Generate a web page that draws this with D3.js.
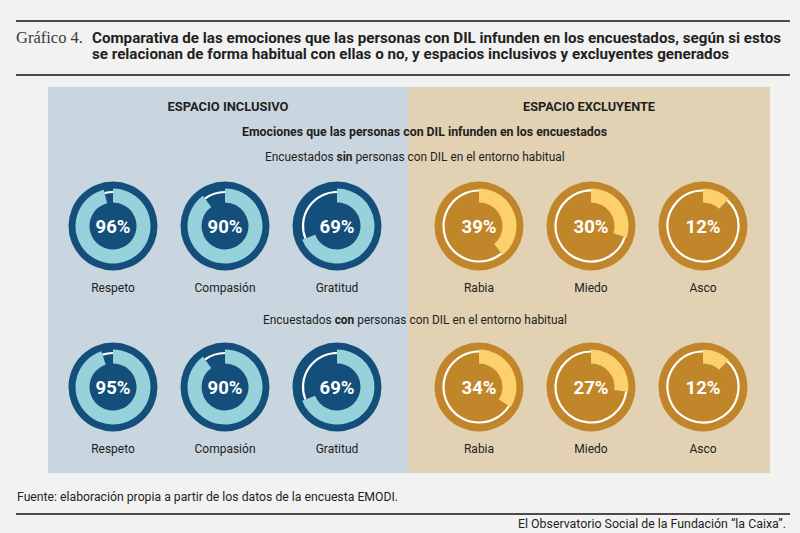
<!DOCTYPE html>
<html>
<head>
<meta charset="utf-8">
<script src="https://cdn.jsdelivr.net/npm/d3@7"></script>
<style>
  html, body { margin: 0; padding: 0; background: #f2f2f2; }
  svg { display: block; }
  text { font-family: Roboto, "Noto Sans", sans-serif; fill: #231f20; }
</style>
</head>
<body>
<svg id="chart" width="800" height="533"></svg>
<script>
'use strict';

// data
const inclusiveEmotions = ["Respeto", "Compasión", "Gratitud"];
const exclusiveEmotions = ["Rabia", "Miedo", "Asco"];
const groups = ["sin", "con"];
const sinDIL = [96, 90, 69, 39, 30, 12];
const conDIL = [95, 90, 69, 34, 27, 12];
const groupLabels = [
    ["Encuestados ", "sin", " personas con DIL en el entorno habitual"],
    ["Encuestados ", "con", " personas con DIL en el entorno habitual"]
];

const COLORS = {
    inclusive: { bg: "#c9d5df", ring: "#134f7a", arc: "#97d1dc" },
    exclusive: { bg: "#e2d1b3", ring: "#c1862a", arc: "#fcd06a" },
    rule: "#4d4a48"
};

const R = 44.5;

const svg = d3.select("#chart");

// header rules and title
svg.append("line").attr("x1", 16).attr("x2", 790).attr("y1", 21).attr("y2", 21)
    .attr("stroke", COLORS.rule).attr("stroke-width", 2);
svg.append("line").attr("x1", 16).attr("x2", 790).attr("y1", 75).attr("y2", 75)
    .attr("stroke", COLORS.rule).attr("stroke-width", 2);

svg.append("text")
    .attr("x", 16).attr("y", 42.5)
    .style("font-family", "'Liberation Serif', 'DejaVu Serif', serif")
    .style("font-size", "16.5px")
    .style("fill", "#3a3a3a")
    .text("Gráfico 4.");

const titleLines = [
    { text: "Comparativa de las emociones que las personas con DIL infunden en los encuestados, según si estos", w: 689 },
    { text: "se relacionan de forma habitual con ellas o no, y espacios inclusivos y excluyentes generados", w: 637 }
];
svg.selectAll("text.title")
    .data(titleLines)
    .join("text")
    .classed("title", true)
    .attr("x", 92)
    .attr("y", (d, i) => 42.5 + i * 16)
    .attr("textLength", d => d.w)
    .attr("lengthAdjust", "spacingAndGlyphs")
    .style("font-size", "14px")
    .style("font-weight", 700)
    .text(d => d.text);

// panels
const panelX = d3.scaleLinear().domain([0, 1]).range([48, 770]);
const split = 408;
svg.append("rect").attr("x", panelX(0)).attr("y", 87)
    .attr("width", split - panelX(0)).attr("height", 386).attr("fill", COLORS.inclusive.bg);
svg.append("rect").attr("x", split).attr("y", 87)
    .attr("width", panelX(1) - split).attr("height", 386).attr("fill", COLORS.exclusive.bg);

svg.append("text").attr("x", (panelX(0) + split) / 2).attr("y", 111)
    .attr("text-anchor", "middle")
    .attr("textLength", 121).attr("lengthAdjust", "spacingAndGlyphs")
    .style("font-size", "12.5px").style("font-weight", 700)
    .text("ESPACIO INCLUSIVO");
svg.append("text").attr("x", (split + panelX(1)) / 2).attr("y", 111)
    .attr("text-anchor", "middle")
    .attr("textLength", 132).attr("lengthAdjust", "spacingAndGlyphs")
    .style("font-size", "12.5px").style("font-weight", 700)
    .text("ESPACIO EXCLUYENTE");

svg.append("text").attr("x", 242).attr("y", 136)
    .attr("textLength", 365).attr("lengthAdjust", "spacingAndGlyphs")
    .style("font-size", "13px").style("font-weight", 700)
    .text("Emociones que las personas con DIL infunden en los encuestados");

// scales
const xIn = d3.scalePoint().domain(inclusiveEmotions).range([113, 337]);
const xEx = d3.scalePoint().domain(exclusiveEmotions).range([479, 703]);
const yRow = d3.scalePoint().domain(groups).range([226, 387]);
const angle = d3.scaleLinear().domain([0, 100]).range([0, 2 * Math.PI]);

const subtitleY = [161, 324];
const subtitleX = [265, 263];
const subtitleW = [300, 304];

groups.forEach((g, gi) => {
    // subtitle with a bold word, squeezed horizontally to the reference width
    const holder = svg.append("g");
    const t = holder.append("text")
        .attr("x", 0).attr("y", 0)
        .style("font-size", "13px");
    groupLabels[gi].forEach((part, pi) => {
        t.append("tspan").style("font-weight", pi === 1 ? 700 : 400).text(part);
    });
    const natural = t.node().getComputedTextLength();
    holder.attr("transform",
        `translate(${subtitleX[gi]},${subtitleY[gi]}) scale(${subtitleW[gi] / natural},1)`);

    const values = gi === 0 ? sinDIL : conDIL;
    const items = inclusiveEmotions.map((e, i) => ({ name: e, value: values[i], kind: "inclusive", x: xIn(e) }))
        .concat(exclusiveEmotions.map((e, i) => ({ name: e, value: values[i + 3], kind: "exclusive", x: xEx(e) })));

    const donut = svg.append("g").selectAll("g")
        .data(items)
        .join("g")
        .attr("transform", d => `translate(${d.x},${yRow(g)})`);

    donut.append("circle").attr("r", R).attr("fill", d => COLORS[d.kind].ring);

    // thin white arc for the remainder
    donut.append("path")
        .attr("fill", "none")
        .attr("stroke", "#ffffff")
        .attr("stroke-width", 2.2)
        .attr("d", d => {
            const rw = d.kind === "inclusive" ? 34 : 35.5;
            return d3.arc().innerRadius(rw).outerRadius(rw)
                .startAngle(angle(d.value)).endAngle(angle(100))();
        });

    // value arc
    donut.append("path")
        .attr("fill", d => COLORS[d.kind].arc)
        .attr("d", d => d3.arc().innerRadius(23.5).outerRadius(37.5)
            .startAngle(0).endAngle(angle(d.value))());

    donut.append("text")
        .attr("text-anchor", "middle")
        .attr("y", 6.5)
        .style("font-size", "18.5px")
        .style("font-weight", 700)
        .style("fill", "#ffffff")
        .text(d => d.value + "%");

    donut.append("text")
        .attr("text-anchor", "middle")
        .attr("y", 66)
        .style("font-size", "12px")
        .text(d => d.name);
});

// footer
svg.append("text").attr("x", 17).attr("y", 501)
    .attr("textLength", 381).attr("lengthAdjust", "spacingAndGlyphs")
    .style("font-size", "12.5px")
    .text("Fuente: elaboración propia a partir de los datos de la encuesta EMODI.");
svg.append("line").attr("x1", 16).attr("x2", 790).attr("y1", 514).attr("y2", 514)
    .attr("stroke", COLORS.rule).attr("stroke-width", 2);
svg.append("text").attr("x", 786).attr("y", 528)
    .attr("text-anchor", "end")
    .attr("textLength", 268).attr("lengthAdjust", "spacingAndGlyphs")
    .style("font-size", "12.5px")
    .text("El Observatorio Social de la Fundación “la Caixa”.");
</script>
</body>
</html>
